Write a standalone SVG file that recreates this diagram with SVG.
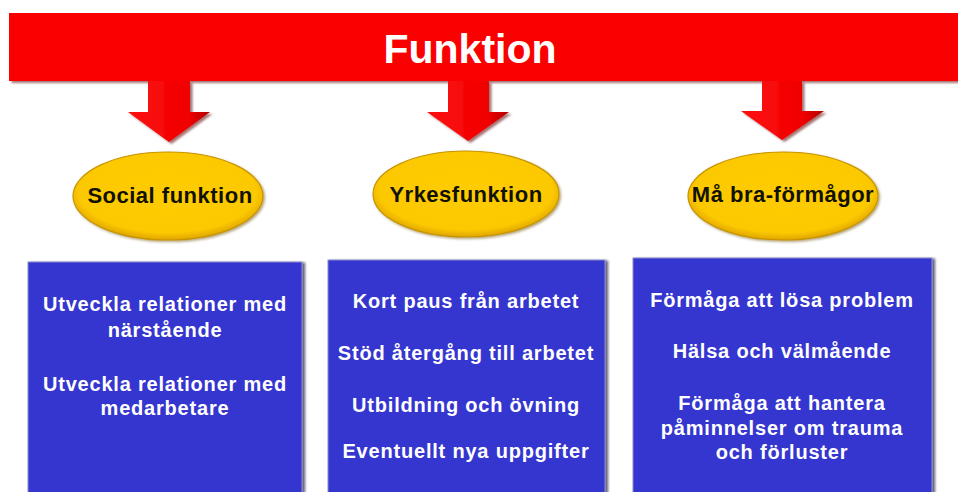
<svg xmlns="http://www.w3.org/2000/svg" width="958" height="492" viewBox="0 0 958 492">
  <style>
    .title { font-family: "Liberation Sans", Arial, sans-serif; font-weight: bold; font-size: 41px; fill: #ffffff; text-anchor: middle; }
    .oval-label { font-family: "Liberation Sans", Arial, sans-serif; font-weight: bold; font-size: 22px; letter-spacing: 0.5px; fill: #111100; text-anchor: middle; }
    .item { font-family: "Liberation Sans", Arial, sans-serif; font-weight: bold; font-size: 20px; letter-spacing: 0.8px; fill: #ffffff; text-anchor: middle; }
    .arrow { fill: url(#arrowFill); filter: url(#shadowRed); }
    .oval { fill: url(#ovalFill); stroke: #c89400; stroke-width: 1.2; filter: url(#shadowSoft); }
    .box { fill: #3636cf; stroke: #8c8ccc; stroke-width: 1; filter: url(#shadowBox); }
  </style>
  <defs>
    <linearGradient id="arrowFill" x1="0" y1="0" x2="1" y2="0">
      <stop offset="0" stop-color="#ff1010"/>
      <stop offset="0.75" stop-color="#f00000"/>
      <stop offset="1" stop-color="#b00000"/>
    </linearGradient>
    <radialGradient id="ovalFill" cx="0.5" cy="0.45" r="0.55">
      <stop offset="0" stop-color="#ffcc00"/>
      <stop offset="0.85" stop-color="#fcc800"/>
      <stop offset="1" stop-color="#e0a600"/>
    </radialGradient>
    <filter id="shadowRed" x="-10%" y="-10%" width="130%" height="130%">
      <feDropShadow dx="2.5" dy="2" stdDeviation="1.2" flood-color="#5a0000" flood-opacity="0.55"/>
    </filter>
    <filter id="shadowSoft" x="-10%" y="-10%" width="130%" height="130%">
      <feDropShadow dx="1.5" dy="1.5" stdDeviation="1.2" flood-color="#6a5000" flood-opacity="0.5"/>
    </filter>
    <filter id="shadowBox" x="-5%" y="-5%" width="115%" height="115%">
      <feDropShadow dx="2.5" dy="1" stdDeviation="1.2" flood-color="#101040" flood-opacity="0.7"/>
    </filter>
  </defs>

  <rect width="958" height="492" fill="#ffffff"/>

  <!-- top banner -->
  <g id="funktion">
    <rect x="9" y="13" width="960" height="68" fill="#fa0000" filter="url(#shadowRed)"/>
    <text class="title" x="470" y="63">Funktion</text>
  </g>

  <!-- downward block arrows from the banner -->
  <g id="connectors">
    <polygon class="arrow" points="148,81 190,81 190,112 210,112 169,142 128,112 148,112"/>
    <polygon class="arrow" points="448,81 489,81 489,112 509,112 468,141 427,112 448,112"/>
    <polygon class="arrow" points="762,81 802,81 802,111 824,111 782,140 741,111 762,111"/>
  </g>

  <!-- category ovals -->
  <g id="social-funktion">
    <ellipse class="oval" cx="168" cy="196" rx="95" ry="44"/>
    <text class="oval-label" x="170" y="203">Social funktion</text>
  </g>
  <g id="yrkesfunktion">
    <ellipse class="oval" cx="466" cy="194" rx="93" ry="43"/>
    <text class="oval-label" x="466" y="202">Yrkesfunktion</text>
  </g>
  <g id="ma-bra-formagor">
    <ellipse class="oval" cx="783" cy="196" rx="95" ry="44"/>
    <text class="oval-label" x="783" y="202">Må bra-förmågor</text>
  </g>

  <!-- detail boxes -->
  <g id="box-social">
    <rect class="box" x="28" y="262" width="274" height="240"/>
    <text class="item" x="165" y="311">Utveckla relationer med</text>
    <text class="item" x="165" y="337">närstående</text>
    <text class="item" x="165" y="391">Utveckla relationer med</text>
    <text class="item" x="165" y="415">medarbetare</text>
  </g>
  <g id="box-yrke">
    <rect class="box" x="328" y="260" width="277" height="242"/>
    <text class="item" x="466" y="308">Kort paus från arbetet</text>
    <text class="item" x="466" y="360">Stöd återgång till arbetet</text>
    <text class="item" x="466" y="412">Utbildning och övning</text>
    <text class="item" x="466" y="458">Eventuellt nya uppgifter</text>
  </g>
  <g id="box-mabra">
    <rect class="box" x="633" y="258" width="299" height="244"/>
    <text class="item" x="782" y="307">Förmåga att lösa problem</text>
    <text class="item" x="782" y="358">Hälsa och välmående</text>
    <text class="item" x="782" y="410">Förmåga att hantera</text>
    <text class="item" x="782" y="435">påminnelser om trauma</text>
    <text class="item" x="782" y="459">och förluster</text>
  </g>
</svg>
